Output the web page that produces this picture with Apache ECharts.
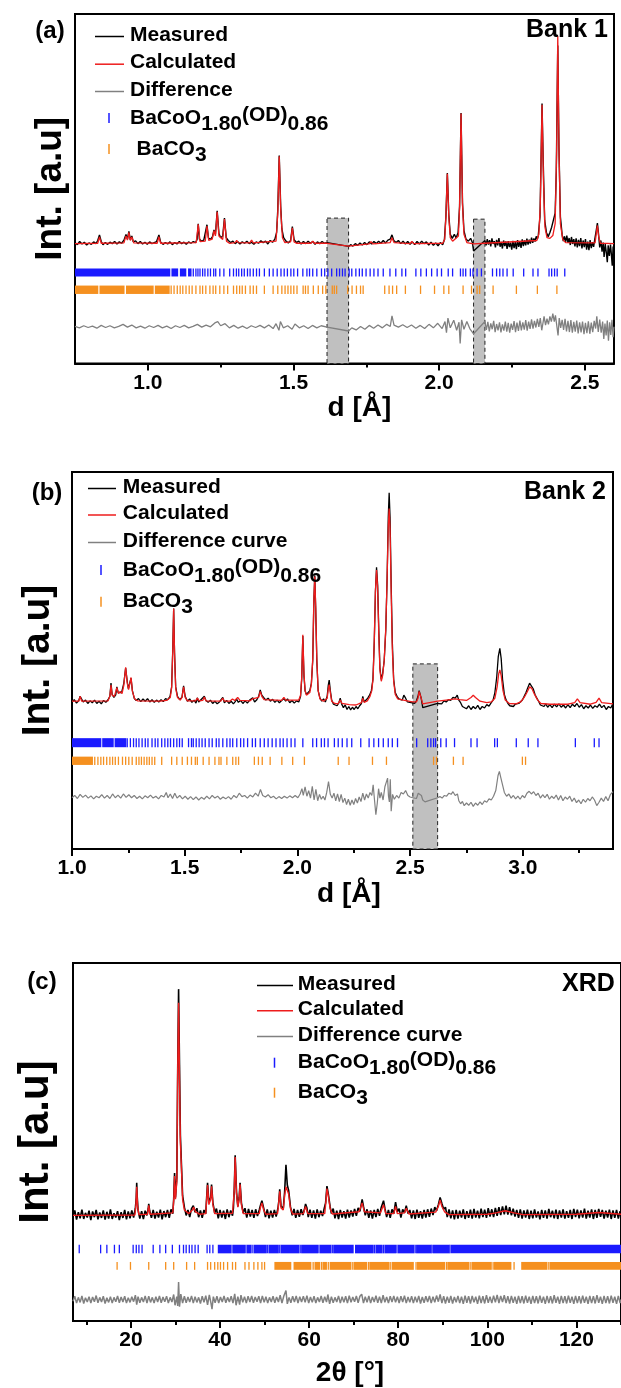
<!DOCTYPE html>
<html><head><meta charset="utf-8">
<script src="https://cdn.jsdelivr.net/npm/echarts@6.0.0/dist/echarts.min.js"></script>
<style>html,body{margin:0;padding:0;background:#fff}#c{width:621px;height:1388px}</style>
</head><body><div id="c"></div>
<script>
const FONT = '"Liberation Sans", Arial, Helvetica, sans-serif';

// ================= Panel (a): Bank 1, x = d [Å], y = arbitrary units (0-100) =================
const xTicksA = [1.0, 1.5, 2.0, 2.5];
const xMinorA = [1.25, 1.75, 2.25];
const measuredA = [[0.750,34.6],[0.758,34.0],[0.766,34.9],[0.774,34.2],[0.782,34.7],[0.790,33.9],[0.798,34.5],[0.806,34.1],[0.814,34.8],[0.822,34.3],[0.828,35.2],[0.834,36.8],[0.840,34.9],[0.846,34.0],[0.854,34.6],[0.862,34.1],[0.870,34.7],[0.878,34.3],[0.886,34.9],[0.894,34.2],[0.902,34.8],[0.910,34.4],[0.918,35.3],[0.925,36.9],[0.930,35.6],[0.935,37.8],[0.940,35.4],[0.945,36.5],[0.950,34.8],[0.958,35.1],[0.966,34.3],[0.974,34.9],[0.982,34.2],[0.990,34.7],[0.998,34.1],[1.006,34.8],[1.014,34.3],[1.022,34.6],[1.030,34.9],[1.038,36.8],[1.044,34.7],[1.052,34.1],[1.060,34.6],[1.068,34.2],[1.076,34.8],[1.084,34.0],[1.092,34.6],[1.100,34.2],[1.108,34.9],[1.116,34.3],[1.124,34.7],[1.132,34.1],[1.140,34.8],[1.148,34.4],[1.156,34.9],[1.164,34.6],[1.169,35.5],[1.173,40.0],[1.177,35.6],[1.184,35.0],[1.192,35.3],[1.198,35.8],[1.203,39.7],[1.208,35.9],[1.215,35.5],[1.222,36.3],[1.227,38.2],[1.232,37.0],[1.238,43.7],[1.244,37.2],[1.250,36.0],[1.257,36.5],[1.263,41.6],[1.269,36.0],[1.276,35.2],[1.284,34.6],[1.292,35.0],[1.300,34.3],[1.308,34.9],[1.316,34.2],[1.324,34.8],[1.332,34.4],[1.340,35.0],[1.348,34.3],[1.356,34.7],[1.364,34.1],[1.372,34.8],[1.380,34.4],[1.388,35.1],[1.396,34.6],[1.404,35.0],[1.412,34.2],[1.420,35.2],[1.428,34.7],[1.436,35.6],[1.442,37.5],[1.446,44.0],[1.451,59.5],[1.456,45.0],[1.460,38.5],[1.466,36.0],[1.474,35.0],[1.482,34.5],[1.490,35.2],[1.496,39.2],[1.502,35.4],[1.510,34.6],[1.518,35.0],[1.526,34.2],[1.534,34.9],[1.542,34.3],[1.550,35.0],[1.558,34.4],[1.566,34.9],[1.574,34.1],[1.582,34.8],[1.590,34.3],[1.598,34.9],[1.606,34.4],[1.615,34.6],[1.689,33.5],[1.696,34.0],[1.704,33.6],[1.712,34.3],[1.720,33.8],[1.728,34.5],[1.736,33.9],[1.744,34.6],[1.752,34.0],[1.760,34.8],[1.768,34.2],[1.776,34.9],[1.784,34.3],[1.792,35.0],[1.800,34.4],[1.808,35.2],[1.816,34.5],[1.824,35.3],[1.832,35.6],[1.838,36.8],[1.844,35.2],[1.852,34.6],[1.860,35.2],[1.868,34.3],[1.876,35.0],[1.884,34.2],[1.892,34.9],[1.900,34.1],[1.908,34.8],[1.916,34.0],[1.924,34.9],[1.932,34.2],[1.940,35.0],[1.948,34.3],[1.956,34.8],[1.964,33.9],[1.972,34.7],[1.980,33.8],[1.988,34.5],[1.996,33.7],[2.004,34.6],[2.012,34.0],[2.018,35.5],[2.023,42.0],[2.028,54.5],[2.033,42.5],[2.038,37.0],[2.045,35.8],[2.052,37.0],[2.058,35.9],[2.065,37.5],[2.070,45.0],[2.075,71.7],[2.080,46.0],[2.085,38.0],[2.092,35.6],[2.100,35.0],[2.108,35.8],[2.114,34.6],[2.118,32.2],[2.157,35.2],[2.161,33.8],[2.165,35.6],[2.169,34.0],[2.173,35.3],[2.177,33.5],[2.181,35.8],[2.185,34.2],[2.189,35.0],[2.193,33.2],[2.197,35.4],[2.201,33.8],[2.205,35.9],[2.209,33.4],[2.213,34.8],[2.217,32.9],[2.221,35.2],[2.225,33.6],[2.229,34.9],[2.233,32.8],[2.237,35.0],[2.241,33.3],[2.245,34.6],[2.249,32.6],[2.253,35.1],[2.257,33.0],[2.261,34.8],[2.265,32.7],[2.269,35.3],[2.273,33.4],[2.277,34.9],[2.281,33.1],[2.285,35.5],[2.289,33.6],[2.293,35.2],[2.297,33.8],[2.301,35.7],[2.305,34.0],[2.309,35.4],[2.313,34.3],[2.317,36.0],[2.321,34.5],[2.325,35.8],[2.329,34.9],[2.333,36.4],[2.337,35.6],[2.340,36.5],[2.346,42.0],[2.350,60.0],[2.353,74.4],[2.357,58.0],[2.362,41.0],[2.368,37.5],[2.374,36.3],[2.380,37.5],[2.386,39.0],[2.392,41.0],[2.398,43.0],[2.402,55.0],[2.407,91.0],[2.411,62.0],[2.416,42.0],[2.422,36.8],[2.426,35.0],[2.430,36.4],[2.434,34.8],[2.438,36.6],[2.442,34.5],[2.446,35.9],[2.450,33.9],[2.454,36.2],[2.458,34.2],[2.462,35.6],[2.466,33.5],[2.470,35.8],[2.474,33.2],[2.478,35.4],[2.482,33.6],[2.486,35.9],[2.490,32.9],[2.494,35.2],[2.498,33.3],[2.502,35.6],[2.506,32.6],[2.510,34.9],[2.514,32.4],[2.518,35.3],[2.522,33.0],[2.526,34.7],[2.530,33.4],[2.534,35.5],[2.539,38.0],[2.543,40.2],[2.547,37.0],[2.551,33.2],[2.555,35.2],[2.559,32.0],[2.563,34.6],[2.566,30.5],[2.570,34.2],[2.574,31.5],[2.577,29.0],[2.580,33.8],[2.584,30.8],[2.588,34.0],[2.591,31.2],[2.594,28.0],[2.597,33.5],[2.600,31.0]];
const calculatedA = [[0.750,34.3],[0.828,34.4],[0.834,36.2],[0.840,34.4],[0.918,34.5],[0.925,36.5],[0.930,35.3],[0.935,37.5],[0.940,35.2],[0.945,36.2],[0.952,34.5],[1.032,34.4],[1.038,36.3],[1.044,34.4],[1.166,34.6],[1.173,39.8],[1.179,34.9],[1.197,35.0],[1.203,39.3],[1.209,35.2],[1.221,35.6],[1.227,38.0],[1.232,36.5],[1.238,43.4],[1.244,36.5],[1.257,35.5],[1.263,41.3],[1.270,35.0],[1.280,34.4],[1.300,34.6],[1.305,35.2],[1.310,34.6],[1.350,34.5],[1.356,35.3],[1.362,34.5],[1.440,35.0],[1.446,43.0],[1.451,59.3],[1.456,44.0],[1.462,36.0],[1.470,34.6],[1.490,34.8],[1.496,38.8],[1.502,34.8],[1.510,34.4],[1.560,34.4],[1.566,35.0],[1.572,34.4],[1.615,34.4],[1.689,33.6],[1.760,34.2],[1.766,34.9],[1.772,34.2],[1.832,34.6],[1.838,36.0],[1.845,34.6],[1.900,34.3],[1.906,34.9],[1.912,34.3],[2.012,34.4],[2.019,35.5],[2.023,42.0],[2.028,54.3],[2.033,42.0],[2.038,36.0],[2.046,35.0],[2.066,36.5],[2.070,45.0],[2.075,71.5],[2.080,45.5],[2.085,37.0],[2.095,34.6],[2.118,34.2],[2.157,34.4],[2.335,35.2],[2.342,37.0],[2.347,45.0],[2.353,74.0],[2.358,52.0],[2.363,39.0],[2.370,36.0],[2.380,35.8],[2.390,36.6],[2.398,40.0],[2.403,60.0],[2.407,93.7],[2.411,62.0],[2.416,40.0],[2.424,35.5],[2.434,34.6],[2.535,34.5],[2.539,37.0],[2.543,39.5],[2.547,36.5],[2.553,34.4],[2.600,34.3]];
const differenceA = [[0.750,10.6],[0.765,10.2],[0.780,10.8],[0.795,10.3],[0.810,10.7],[0.825,10.1],[0.840,10.9],[0.855,10.3],[0.870,10.8],[0.885,10.2],[0.900,10.6],[0.915,11.2],[0.930,10.4],[0.945,11.0],[0.960,10.2],[0.975,10.7],[0.990,10.1],[1.005,10.8],[1.020,10.3],[1.035,10.9],[1.050,10.2],[1.065,10.7],[1.080,10.0],[1.095,10.8],[1.110,10.3],[1.125,10.9],[1.140,10.2],[1.155,10.6],[1.170,11.2],[1.185,10.4],[1.200,11.0],[1.215,10.5],[1.230,11.6],[1.240,12.0],[1.250,10.8],[1.265,11.4],[1.280,10.2],[1.295,10.9],[1.310,10.1],[1.325,10.7],[1.340,10.0],[1.355,10.8],[1.370,10.3],[1.385,10.9],[1.400,10.2],[1.415,11.0],[1.430,10.0],[1.440,11.4],[1.450,9.5],[1.455,12.0],[1.465,10.2],[1.480,10.8],[1.495,9.8],[1.505,11.3],[1.520,10.2],[1.535,10.8],[1.550,10.0],[1.565,10.9],[1.580,10.2],[1.595,10.8],[1.615,10.4],[1.689,9.3],[1.700,10.2],[1.715,9.6],[1.730,10.6],[1.745,9.8],[1.760,10.9],[1.775,10.1],[1.790,11.0],[1.805,10.2],[1.820,11.2],[1.832,10.6],[1.838,13.6],[1.845,11.0],[1.860,10.4],[1.875,11.1],[1.890,10.3],[1.905,11.0],[1.920,10.1],[1.935,10.9],[1.950,10.0],[1.965,11.2],[1.980,10.2],[1.995,11.5],[2.010,10.0],[2.020,12.0],[2.025,8.8],[2.030,13.0],[2.038,10.2],[2.050,12.4],[2.060,9.5],[2.068,11.8],[2.072,5.7],[2.077,12.5],[2.085,9.8],[2.095,12.0],[2.105,10.0],[2.118,8.5],[2.157,12.0],[2.162,9.6],[2.167,11.9],[2.172,9.2],[2.177,11.5],[2.182,9.8],[2.187,12.2],[2.192,9.0],[2.197,11.3],[2.202,9.5],[2.207,11.8],[2.212,8.9],[2.217,11.2],[2.222,9.4],[2.227,12.0],[2.232,9.1],[2.237,11.6],[2.242,8.8],[2.247,11.4],[2.252,9.6],[2.257,12.1],[2.262,9.0],[2.267,11.7],[2.272,9.3],[2.277,12.3],[2.282,9.5],[2.287,11.8],[2.292,9.7],[2.297,12.4],[2.302,9.4],[2.307,12.0],[2.312,9.9],[2.317,12.6],[2.322,10.0],[2.327,12.2],[2.332,10.3],[2.337,12.8],[2.342,10.5],[2.347,13.0],[2.352,9.5],[2.356,9.0],[2.360,13.5],[2.365,11.0],[2.370,12.8],[2.375,11.2],[2.380,13.5],[2.385,12.0],[2.390,14.3],[2.395,12.0],[2.399,13.8],[2.404,14.0],[2.408,8.0],[2.412,13.0],[2.417,10.2],[2.422,12.5],[2.427,9.6],[2.432,12.8],[2.437,9.2],[2.442,12.2],[2.447,9.0],[2.452,12.4],[2.457,8.8],[2.462,11.9],[2.467,9.1],[2.472,12.3],[2.477,8.6],[2.482,11.8],[2.487,8.9],[2.492,12.0],[2.497,8.4],[2.502,11.6],[2.507,8.7],[2.512,12.1],[2.517,8.5],[2.522,11.7],[2.527,9.0],[2.532,12.2],[2.537,10.0],[2.541,13.5],[2.546,9.0],[2.551,12.6],[2.556,8.8],[2.561,12.0],[2.565,7.0],[2.569,11.4],[2.573,8.0],[2.577,12.3],[2.581,6.5],[2.585,11.8],[2.589,8.2],[2.593,12.5],[2.597,7.5],[2.600,10.5]];
const blueBandsA = [[0.75,1.077],[1.081,1.104],[1.110,1.132],[1.138,1.150]];
const blueTicksA = [1.156,1.165,1.172,1.179,1.188,1.196,1.206,1.215,1.226,1.233,1.247,1.261,1.281,1.294,1.304,1.312,1.322,1.331,1.342,1.351,1.362,1.373,1.383,1.400,1.417,1.430,1.444,1.457,1.468,1.479,1.491,1.501,1.514,1.532,1.546,1.555,1.566,1.580,1.596,1.607,1.618,1.631,1.648,1.658,1.668,1.677,1.691,1.700,1.714,1.726,1.736,1.749,1.763,1.776,1.790,1.808,1.831,1.851,1.872,1.885,1.920,1.937,1.956,1.974,1.993,2.008,2.031,2.046,2.073,2.082,2.091,2.107,2.116,2.130,2.145,2.183,2.197,2.208,2.219,2.233,2.254,2.290,2.322,2.339,2.377,2.386,2.396,2.405,2.431];
const orangeBandsA = [[0.75,0.83],[0.834,0.92],[0.925,1.02],[1.024,1.075]];
const orangeTicksA = [1.080,1.090,1.101,1.111,1.120,1.131,1.142,1.152,1.165,1.179,1.188,1.199,1.213,1.224,1.233,1.247,1.261,1.274,1.294,1.305,1.315,1.324,1.335,1.351,1.362,1.373,1.400,1.430,1.446,1.460,1.471,1.481,1.491,1.501,1.512,1.533,1.541,1.550,1.568,1.585,1.600,1.611,1.633,1.640,1.648,1.686,1.701,1.716,1.730,1.739,1.813,1.828,1.840,1.854,1.884,1.936,1.984,2.016,2.033,2.082,2.111,2.130,2.139,2.185,2.265,2.337,2.404];
const excludedA = [[1.615,1.689,41.6],[2.118,2.157,41.3]]; // [from, to, top]

// ================= Panel (b): Bank 2 =================
const xTicksB = [1.0, 1.5, 2.0, 2.5, 3.0];
const xMinorB = [1.25, 1.75, 2.25, 2.75, 3.25];
const measuredB = [[1.000,39.0],[1.010,39.6],[1.020,38.7],[1.030,39.4],[1.036,40.5],[1.042,40.0],[1.050,39.0],[1.060,39.5],[1.070,38.6],[1.080,39.3],[1.090,38.8],[1.100,39.5],[1.110,38.6],[1.120,39.2],[1.130,38.5],[1.140,39.4],[1.150,38.9],[1.160,39.6],[1.168,40.5],[1.173,44.0],[1.178,41.0],[1.186,40.2],[1.194,40.9],[1.199,43.0],[1.205,41.5],[1.212,42.0],[1.220,41.5],[1.230,44.0],[1.238,48.0],[1.245,44.5],[1.250,42.5],[1.256,43.0],[1.262,45.3],[1.268,42.0],[1.276,40.0],[1.285,39.4],[1.295,39.9],[1.305,39.1],[1.315,39.8],[1.325,39.2],[1.335,39.9],[1.345,39.0],[1.355,39.6],[1.365,38.9],[1.375,39.5],[1.385,39.0],[1.395,39.6],[1.405,39.1],[1.415,39.9],[1.425,39.6],[1.435,40.5],[1.442,43.0],[1.447,53.0],[1.451,63.8],[1.455,52.0],[1.460,43.0],[1.468,40.5],[1.478,39.6],[1.488,40.3],[1.495,43.3],[1.502,40.5],[1.512,39.2],[1.522,39.8],[1.532,38.9],[1.542,39.5],[1.550,38.7],[1.556,40.1],[1.562,39.0],[1.572,39.6],[1.580,39.2],[1.587,40.5],[1.594,39.4],[1.604,38.9],[1.614,39.5],[1.624,38.6],[1.634,39.2],[1.644,38.5],[1.654,39.0],[1.662,38.7],[1.669,40.2],[1.676,38.8],[1.686,39.4],[1.696,38.6],[1.706,39.2],[1.716,38.5],[1.724,39.1],[1.730,39.8],[1.738,38.9],[1.748,39.4],[1.758,38.6],[1.768,39.3],[1.778,38.7],[1.788,39.5],[1.796,39.1],[1.802,40.1],[1.810,39.0],[1.820,39.6],[1.828,40.5],[1.835,42.2],[1.842,40.8],[1.850,40.2],[1.860,39.5],[1.870,40.0],[1.880,39.2],[1.890,39.7],[1.900,38.9],[1.910,39.5],[1.920,38.8],[1.930,39.4],[1.940,39.9],[1.948,39.2],[1.956,39.8],[1.966,38.8],[1.976,39.4],[1.986,38.7],[1.996,39.3],[2.006,39.0],[2.014,40.5],[2.019,45.0],[2.024,56.5],[2.029,46.0],[2.034,42.0],[2.040,41.0],[2.048,40.8],[2.055,42.0],[2.062,44.0],[2.068,50.0],[2.073,66.0],[2.077,72.6],[2.081,64.0],[2.086,50.0],[2.092,42.0],[2.100,40.0],[2.108,39.2],[2.116,39.8],[2.124,39.0],[2.132,40.5],[2.137,43.5],[2.141,44.8],[2.146,42.0],[2.152,39.5],[2.160,38.4],[2.168,38.9],[2.176,38.0],[2.184,38.8],[2.190,40.0],[2.196,38.5],[2.204,37.5],[2.212,38.2],[2.220,37.0],[2.228,37.8],[2.236,36.9],[2.244,37.6],[2.252,37.0],[2.260,37.8],[2.268,37.2],[2.276,38.0],[2.284,38.6],[2.290,40.5],[2.296,39.0],[2.304,39.5],[2.312,40.0],[2.320,40.8],[2.328,42.0],[2.335,45.0],[2.341,55.0],[2.346,68.0],[2.351,74.7],[2.356,70.0],[2.361,58.0],[2.366,48.0],[2.372,45.0],[2.378,46.5],[2.385,50.0],[2.392,58.0],[2.398,72.0],[2.403,88.0],[2.407,94.5],[2.411,88.0],[2.416,70.0],[2.421,55.0],[2.427,45.0],[2.434,41.5],[2.442,40.5],[2.450,39.8],[2.458,40.3],[2.465,39.5],[2.472,40.8],[2.480,40.0],[2.488,39.0],[2.496,39.5],[2.504,38.8],[2.512,39.2],[2.520,38.6],[2.528,39.3],[2.535,40.5],[2.540,42.0],[2.544,42.4],[2.549,40.0],[2.556,37.5],[2.562,37.2],[2.622,38.6],[2.630,39.0],[2.640,38.5],[2.650,39.3],[2.660,39.0],[2.670,39.6],[2.680,39.4],[2.690,40.2],[2.700,40.0],[2.709,40.8],[2.716,39.5],[2.724,38.8],[2.732,37.8],[2.740,37.5],[2.750,37.2],[2.760,38.0],[2.770,37.0],[2.780,37.8],[2.790,37.2],[2.800,38.1],[2.810,37.0],[2.820,37.8],[2.830,37.4],[2.840,38.3],[2.850,37.9],[2.860,38.8],[2.868,39.5],[2.876,41.5],[2.884,45.5],[2.891,51.0],[2.898,53.2],[2.904,50.5],[2.910,45.0],[2.918,41.0],[2.926,39.5],[2.934,38.6],[2.942,38.0],[2.950,38.5],[2.958,37.8],[2.966,38.4],[2.974,37.9],[2.982,38.6],[2.990,38.8],[2.998,39.5],[3.006,40.5],[3.014,41.5],[3.022,42.8],[3.030,44.0],[3.038,43.5],[3.046,42.5],[3.054,41.0],[3.062,40.0],[3.070,39.2],[3.078,38.2],[3.086,38.7],[3.094,37.8],[3.102,38.5],[3.110,37.6],[3.120,38.3],[3.130,37.5],[3.140,38.4],[3.150,37.7],[3.160,38.5],[3.170,37.6],[3.180,38.2],[3.190,37.4],[3.200,38.3],[3.210,37.5],[3.220,38.4],[3.230,37.8],[3.240,38.6],[3.250,37.6],[3.260,38.3],[3.270,37.2],[3.280,38.0],[3.290,37.4],[3.300,38.2],[3.310,37.3],[3.320,38.0],[3.330,37.6],[3.340,38.4],[3.350,37.5],[3.360,38.1],[3.370,37.0],[3.380,37.8],[3.390,37.4],[3.400,38.6]];
const calculatedB = [[1.000,39.2],[1.030,39.2],[1.036,40.5],[1.043,39.2],[1.160,39.3],[1.168,40.5],[1.173,43.5],[1.178,40.8],[1.188,40.5],[1.199,42.8],[1.206,41.2],[1.214,41.8],[1.222,41.2],[1.230,43.5],[1.238,48.2],[1.245,44.0],[1.251,42.3],[1.256,42.8],[1.262,45.5],[1.268,41.8],[1.278,39.8],[1.290,39.3],[1.390,39.2],[1.420,39.4],[1.436,40.2],[1.442,42.8],[1.447,52.5],[1.451,63.8],[1.455,51.5],[1.460,42.6],[1.468,40.2],[1.480,39.5],[1.488,40.2],[1.495,43.0],[1.502,40.2],[1.512,39.3],[1.548,39.3],[1.556,40.0],[1.564,39.3],[1.580,39.4],[1.587,40.3],[1.594,39.3],[1.660,39.2],[1.669,40.0],[1.676,39.2],[1.700,39.2],[1.712,39.8],[1.722,39.4],[1.735,40.2],[1.745,39.4],[1.790,39.3],[1.800,39.8],[1.808,39.3],[1.828,40.2],[1.835,41.8],[1.842,40.5],[1.852,39.6],[1.930,39.4],[1.940,40.2],[1.948,39.5],[2.006,39.5],[2.014,40.8],[2.019,45.5],[2.024,56.8],[2.029,46.5],[2.034,42.0],[2.040,40.8],[2.048,40.5],[2.055,41.5],[2.062,43.8],[2.068,50.5],[2.073,66.5],[2.077,72.3],[2.081,64.5],[2.086,50.5],[2.092,42.0],[2.100,39.8],[2.116,39.2],[2.132,40.0],[2.137,42.5],[2.141,43.6],[2.146,41.5],[2.152,39.2],[2.165,38.6],[2.180,38.5],[2.190,39.5],[2.198,38.6],[2.230,38.3],[2.260,38.2],[2.284,38.8],[2.290,40.0],[2.296,38.9],[2.310,39.3],[2.322,40.5],[2.330,42.0],[2.336,45.5],[2.341,55.5],[2.346,68.5],[2.351,74.0],[2.356,69.0],[2.361,57.0],[2.366,47.5],[2.372,44.5],[2.378,46.0],[2.385,50.0],[2.392,58.5],[2.398,72.0],[2.403,85.5],[2.407,90.3],[2.411,85.0],[2.416,68.0],[2.421,53.0],[2.427,44.5],[2.434,41.0],[2.445,39.8],[2.470,39.5],[2.510,39.0],[2.528,39.0],[2.535,40.0],[2.540,41.8],[2.544,42.0],[2.549,40.0],[2.556,38.5],[2.562,38.6],[2.622,39.2],[2.660,39.5],[2.700,39.8],[2.720,39.6],[2.750,39.4],[2.770,40.2],[2.780,40.8],[2.790,40.2],[2.810,39.2],[2.840,38.8],[2.860,39.0],[2.876,40.0],[2.886,43.0],[2.893,46.5],[2.898,47.5],[2.904,46.0],[2.912,42.0],[2.922,39.5],[2.940,38.6],[2.970,38.5],[2.990,39.0],[3.006,40.2],[3.018,41.5],[3.030,43.0],[3.040,42.6],[3.052,41.0],[3.066,39.5],[3.080,38.6],[3.120,38.4],[3.200,38.4],[3.230,38.8],[3.242,39.8],[3.254,38.8],[3.300,38.4],[3.325,38.9],[3.338,40.0],[3.350,38.8],[3.400,38.5]];
const differenceB = [[1.000,13.6],[1.012,14.2],[1.024,13.4],[1.036,14.5],[1.048,13.7],[1.060,14.3],[1.072,13.5],[1.084,14.1],[1.096,13.3],[1.108,14.0],[1.120,13.6],[1.132,14.4],[1.144,13.5],[1.156,14.2],[1.168,13.4],[1.180,14.6],[1.192,13.6],[1.204,14.3],[1.216,13.5],[1.228,14.6],[1.240,13.7],[1.252,14.4],[1.264,13.6],[1.276,14.2],[1.288,13.4],[1.300,14.0],[1.312,13.3],[1.324,14.1],[1.336,13.6],[1.348,14.3],[1.360,13.5],[1.372,14.0],[1.384,13.3],[1.396,14.2],[1.408,13.8],[1.418,15.0],[1.426,13.6],[1.436,14.6],[1.446,13.4],[1.456,14.8],[1.466,13.5],[1.478,14.2],[1.490,13.3],[1.502,14.0],[1.514,13.2],[1.526,13.9],[1.538,13.1],[1.550,13.8],[1.562,13.0],[1.574,13.7],[1.586,13.2],[1.598,14.0],[1.610,13.3],[1.622,14.2],[1.634,13.5],[1.646,14.0],[1.658,13.2],[1.670,13.8],[1.682,13.3],[1.694,13.9],[1.706,13.2],[1.718,14.2],[1.730,13.6],[1.742,14.8],[1.754,13.9],[1.766,14.2],[1.778,13.5],[1.790,14.3],[1.802,13.8],[1.814,14.8],[1.826,14.0],[1.836,15.8],[1.846,14.2],[1.858,13.8],[1.870,14.4],[1.882,13.6],[1.894,14.0],[1.906,13.3],[1.918,13.9],[1.930,13.4],[1.942,14.0],[1.954,13.5],[1.966,14.1],[1.978,13.6],[1.990,14.2],[2.002,13.6],[2.012,14.6],[2.020,16.0],[2.026,14.2],[2.034,16.5],[2.042,14.0],[2.050,15.5],[2.058,13.5],[2.066,16.6],[2.074,13.0],[2.082,15.8],[2.090,12.8],[2.098,14.5],[2.106,13.2],[2.114,14.0],[2.122,13.0],[2.130,15.0],[2.138,17.9],[2.146,14.5],[2.154,13.5],[2.162,14.8],[2.170,12.8],[2.178,14.6],[2.186,12.6],[2.194,14.5],[2.202,12.3],[2.210,13.5],[2.218,11.8],[2.226,13.2],[2.234,11.6],[2.242,13.0],[2.250,11.8],[2.258,13.4],[2.266,12.2],[2.274,13.8],[2.282,12.6],[2.290,14.8],[2.298,13.0],[2.306,14.6],[2.314,13.5],[2.322,15.0],[2.330,14.2],[2.336,17.0],[2.342,13.0],[2.348,9.1],[2.354,12.0],[2.360,16.0],[2.366,13.5],[2.372,15.0],[2.380,13.0],[2.388,16.5],[2.394,17.0],[2.400,18.8],[2.404,14.0],[2.408,12.5],[2.412,18.5],[2.416,10.0],[2.422,14.5],[2.430,13.2],[2.440,14.2],[2.450,13.5],[2.460,15.0],[2.470,14.6],[2.480,15.5],[2.490,14.2],[2.500,13.8],[2.512,13.6],[2.520,14.0],[2.528,13.4],[2.536,14.8],[2.544,15.2],[2.550,14.2],[2.556,13.0],[2.566,12.5],[2.622,13.6],[2.632,13.9],[2.642,13.5],[2.652,14.2],[2.662,14.0],[2.672,14.8],[2.682,14.5],[2.690,15.2],[2.700,14.2],[2.710,14.6],[2.716,12.8],[2.724,12.0],[2.732,12.6],[2.740,11.5],[2.750,12.2],[2.760,11.6],[2.770,12.4],[2.780,11.3],[2.790,12.2],[2.800,11.6],[2.810,12.5],[2.820,11.8],[2.830,12.8],[2.840,12.4],[2.850,13.3],[2.860,13.0],[2.870,14.0],[2.880,15.5],[2.890,19.5],[2.896,20.6],[2.902,19.0],[2.910,17.0],[2.918,15.0],[2.928,14.0],[2.938,14.6],[2.948,13.5],[2.958,14.2],[2.968,13.3],[2.978,14.0],[2.988,13.2],[2.998,14.2],[3.008,13.6],[3.018,14.8],[3.028,15.3],[3.038,14.6],[3.048,15.2],[3.058,14.2],[3.068,14.8],[3.078,13.5],[3.088,14.4],[3.098,13.6],[3.108,14.5],[3.118,13.2],[3.128,14.0],[3.138,13.4],[3.148,14.3],[3.158,13.0],[3.168,14.2],[3.178,12.8],[3.188,13.8],[3.198,13.2],[3.208,14.0],[3.218,12.6],[3.228,13.5],[3.238,12.3],[3.248,13.0],[3.258,12.0],[3.268,13.2],[3.278,12.4],[3.288,13.4],[3.298,12.8],[3.308,13.8],[3.318,13.0],[3.328,11.5],[3.338,12.4],[3.348,13.5],[3.358,12.6],[3.368,13.9],[3.378,12.8],[3.388,14.4],[3.400,15.2]];
const blueBandsB = [[1.0,1.130],[1.134,1.185],[1.189,1.241]];
const blueTicksB = [1.245,1.259,1.273,1.285,1.297,1.311,1.325,1.337,1.355,1.369,1.381,1.398,1.412,1.425,1.437,1.451,1.465,1.477,1.489,1.517,1.530,1.538,1.551,1.564,1.577,1.591,1.608,1.622,1.640,1.652,1.669,1.687,1.701,1.713,1.731,1.748,1.762,1.779,1.800,1.814,1.835,1.853,1.870,1.888,1.905,1.923,1.937,1.954,1.972,1.989,2.024,2.068,2.085,2.106,2.120,2.136,2.164,2.181,2.199,2.220,2.241,2.281,2.318,2.339,2.360,2.381,2.403,2.421,2.444,2.529,2.578,2.592,2.604,2.613,2.636,2.660,2.697,2.770,2.797,2.875,2.887,2.971,3.024,3.067,3.233,3.317,3.338];
const orangeBandsB = [[1.0,1.093]];
const orangeTicksB = [1.101,1.115,1.128,1.140,1.154,1.168,1.180,1.192,1.206,1.224,1.238,1.252,1.267,1.285,1.297,1.308,1.320,1.332,1.343,1.355,1.367,1.398,1.442,1.465,1.489,1.512,1.530,1.547,1.556,1.582,1.608,1.634,1.652,1.661,1.687,1.713,1.727,1.739,1.809,1.827,1.844,1.879,1.931,1.979,2.031,2.181,2.229,2.333,2.395,2.604,2.617,2.692,2.735,2.998,3.012];
const excludedB = [[2.512,2.622,49.1]];

// ================= Panel (c): XRD, x = 2θ [°] =================
const xTicksC = [20, 40, 60, 80, 100, 120];
const xMinorC = [10, 30, 50, 70, 90, 110, 130];
const measuredC = [[7.0,29.1],[7.4,30.9],[7.8,28.3],[8.2,30.4],[8.6,28.7],[9.0,31.1],[9.4,28.5],[9.8,30.2],[10.2,28.9],[10.6,30.8],[11.0,28.2],[11.4,30.6],[11.8,29.0],[12.2,31.0],[12.6,28.4],[13.0,30.3],[13.4,28.8],[13.8,30.9],[14.2,28.3],[14.6,30.5],[15.0,28.6],[15.4,31.2],[15.8,28.5],[16.2,30.1],[16.6,28.9],[17.0,30.7],[17.4,28.2],[17.8,30.4],[18.2,28.8],[18.6,31.0],[19.0,28.4],[19.4,30.6],[19.8,28.7],[20.2,30.9],[20.6,28.9],[21.0,31.5],[21.2,34.5],[21.3,38.6],[21.4,35.0],[21.6,31.0],[22.0,28.6],[22.4,30.7],[22.8,28.5],[23.2,30.8],[23.6,29.5],[23.9,31.5],[24.0,32.7],[24.2,30.8],[24.6,28.8],[25.0,31.0],[25.4,28.6],[25.8,30.5],[26.2,28.9],[26.6,31.1],[27.0,28.4],[27.4,30.7],[27.8,29.0],[28.2,31.0],[28.6,28.8],[29.0,31.2],[29.4,30.0],[29.6,34.0],[29.8,41.3],[30.0,34.5],[30.3,40.0],[30.5,70.0],[30.7,92.7],[30.9,72.0],[31.1,52.0],[31.3,45.0],[31.6,35.0],[32.0,31.8],[32.4,29.5],[32.8,31.0],[33.2,29.0],[33.6,31.4],[34.0,32.2],[34.4,30.4],[34.8,31.5],[35.2,29.0],[35.6,30.9],[36.0,28.8],[36.4,31.0],[36.8,30.0],[37.0,34.5],[37.2,38.6],[37.5,33.0],[37.9,34.5],[38.1,38.1],[38.4,33.0],[38.8,30.2],[39.2,31.4],[39.6,28.7],[40.0,31.0],[40.4,28.9],[40.8,30.8],[41.2,28.5],[41.6,31.2],[42.0,29.0],[42.4,30.9],[42.8,29.4],[43.0,31.5],[43.2,37.0],[43.4,46.3],[43.7,36.0],[44.0,32.0],[44.3,34.5],[44.5,38.6],[44.8,33.0],[45.2,30.2],[45.6,31.5],[46.0,28.9],[46.4,31.3],[46.8,29.2],[47.2,31.0],[47.6,28.8],[48.0,31.2],[48.4,29.3],[48.8,31.0],[49.1,32.4],[49.4,33.6],[49.8,31.5],[50.2,29.0],[50.6,31.2],[51.0,28.7],[51.4,30.8],[51.8,28.9],[52.2,31.0],[52.6,29.2],[53.0,31.5],[53.2,33.5],[53.4,36.8],[53.7,32.0],[54.2,31.5],[54.5,36.0],[54.8,43.6],[55.1,38.0],[55.4,36.5],[55.8,32.0],[56.2,29.5],[56.6,31.3],[57.0,28.8],[57.4,31.0],[57.8,29.1],[58.2,31.2],[58.6,29.6],[59.0,31.5],[59.2,32.7],[59.5,31.6],[59.8,29.0],[60.2,31.1],[60.6,28.8],[61.0,30.9],[61.4,28.6],[61.8,31.2],[62.2,29.0],[62.6,30.8],[63.0,29.3],[63.4,31.5],[63.7,33.0],[64.0,37.7],[64.3,35.5],[64.7,32.0],[65.0,30.0],[65.4,31.4],[65.8,28.7],[66.2,30.8],[66.6,28.5],[67.0,31.0],[67.4,28.9],[67.8,30.7],[68.2,28.6],[68.6,31.1],[69.0,28.9],[69.4,30.9],[69.8,29.2],[70.2,31.3],[70.6,29.4],[71.0,31.6],[71.4,30.6],[71.9,34.0],[72.2,32.0],[72.6,29.5],[73.0,31.2],[73.4,28.8],[73.8,30.9],[74.2,28.6],[74.6,31.0],[75.0,29.0],[75.4,31.3],[75.8,29.4],[76.2,31.8],[76.7,33.6],[77.0,31.5],[77.4,29.0],[77.8,31.0],[78.2,28.8],[78.6,31.2],[79.0,30.0],[79.4,33.2],[79.8,30.5],[80.2,31.4],[80.6,28.9],[81.0,31.2],[81.4,30.2],[81.8,32.2],[82.2,30.0],[82.6,31.0],[83.0,28.7],[83.4,30.9],[83.8,28.5],[84.2,31.1],[84.6,28.8],[85.0,30.7],[85.4,28.6],[85.8,31.0],[86.2,28.9],[86.6,31.2],[87.0,29.1],[87.4,31.4],[87.8,29.6],[88.2,31.8],[88.6,30.8],[89.0,32.5],[89.4,34.5],[89.8,32.8],[90.2,31.2],[90.6,31.8],[91.0,29.0],[91.4,31.2],[91.8,28.7],[92.2,30.9],[92.6,28.4],[93.0,31.0],[93.4,28.6],[93.8,30.8],[94.2,28.9],[94.6,31.2],[95.0,28.5],[95.4,30.7],[95.8,28.8],[96.2,31.1],[96.6,28.6],[97.0,31.3],[97.4,28.9],[97.8,30.8],[98.2,28.7],[98.6,31.4],[99.0,29.0],[99.4,31.1],[99.8,28.8],[100.2,31.5],[100.6,29.2],[101.0,31.2],[101.4,29.0],[101.8,31.6],[102.2,29.4],[102.6,31.8],[103.0,29.6],[103.4,32.0],[103.8,29.8],[104.2,32.2],[104.6,29.7],[105.0,31.8],[105.4,29.5],[105.8,31.4],[106.2,29.2],[106.6,31.0],[107.0,28.8],[107.4,31.2],[107.8,28.6],[108.2,30.9],[108.6,28.9],[109.0,31.1],[109.4,28.5],[109.8,30.8],[110.2,28.7],[110.6,31.2],[111.0,28.9],[111.4,30.6],[111.8,28.4],[112.2,31.0],[112.6,28.8],[113.0,30.9],[113.4,28.6],[113.8,31.3],[114.2,29.0],[114.6,30.8],[115.0,28.7],[115.4,31.1],[115.8,28.5],[116.2,30.9],[116.6,28.9],[117.0,31.2],[117.4,28.6],[117.8,30.7],[118.2,28.8],[118.6,31.0],[119.0,28.5],[119.4,31.3],[119.8,29.0],[120.2,31.1],[120.6,28.7],[121.0,30.9],[121.4,28.9],[121.8,31.4],[122.2,28.6],[122.6,30.8],[123.0,28.9],[123.4,31.2],[123.8,28.5],[124.2,31.0],[124.6,28.8],[125.0,31.3],[125.4,29.1],[125.8,31.0],[126.2,28.6],[126.6,30.8],[127.0,28.9],[127.4,31.1],[127.8,28.5],[128.2,30.9],[128.6,28.8],[129.0,31.0],[129.4,28.6],[129.8,30.7],[130.0,29.5]];
const calculatedC = [[7,29.5],[20.9,29.6],[21.1,32.0],[21.3,37.5],[21.5,32.0],[21.8,29.7],[23.7,29.8],[24.0,32.3],[24.3,29.8],[29.4,30.2],[29.6,33.5],[29.8,40.5],[30.0,34.0],[30.3,39.0],[30.5,70.0],[30.7,88.9],[30.9,68.0],[31.1,50.0],[31.3,44.0],[31.6,34.0],[32.0,31.0],[33.0,30.0],[33.8,31.0],[34.1,31.8],[34.5,30.5],[35.5,29.8],[36.8,30.0],[37.0,34.0],[37.2,38.0],[37.5,32.5],[37.9,34.0],[38.1,37.6],[38.4,32.5],[38.8,30.0],[42.8,30.1],[43.2,36.5],[43.4,45.8],[43.7,35.5],[44.0,31.8],[44.3,34.2],[44.5,38.2],[44.8,32.5],[45.2,30.0],[48.8,30.0],[49.1,31.8],[49.4,33.0],[49.8,31.0],[50.3,29.8],[52.9,30.0],[53.1,32.0],[53.4,36.2],[53.7,31.6],[54.2,31.0],[54.5,35.0],[54.8,37.5],[55.1,36.5],[55.4,35.5],[55.8,31.5],[56.3,29.9],[58.7,30.0],[59.2,32.0],[59.7,30.0],[63.5,30.0],[63.7,32.5],[64.0,37.0],[64.3,35.0],[64.7,31.5],[65.2,29.9],[71.2,30.5],[71.9,33.0],[72.4,30.5],[76.0,30.2],[76.7,32.5],[77.2,30.0],[79.0,30.0],[79.4,32.0],[79.8,30.0],[81.4,30.2],[81.8,31.5],[82.4,29.9],[88.4,30.4],[89.0,32.0],[89.4,33.8],[89.8,32.0],[90.4,30.5],[91.4,29.7],[100,29.8],[102,30.2],[104,30.8],[106,30.2],[108,29.7],[120,29.8],[125,30.3],[130,29.8]];
const differenceC = [[7.0,5.5],[7.4,6.9],[7.8,5.0],[8.2,6.6],[8.6,5.2],[9.0,7.0],[9.4,4.9],[9.8,6.5],[10.2,5.3],[10.6,6.8],[11.0,5.0],[11.4,6.7],[11.8,5.4],[12.2,7.1],[12.6,5.1],[13.0,6.6],[13.4,5.3],[13.8,6.9],[14.2,4.9],[14.6,6.5],[15.0,5.2],[15.4,6.8],[15.8,5.0],[16.2,6.6],[16.6,5.4],[17.0,7.0],[17.4,5.1],[17.8,6.7],[18.2,5.3],[18.6,6.9],[19.0,5.0],[19.4,6.5],[19.8,5.2],[20.2,6.8],[20.6,5.4],[21.0,7.2],[21.3,4.6],[21.6,6.8],[22.0,5.1],[22.4,6.6],[22.8,5.3],[23.2,7.0],[23.6,5.0],[24.0,6.9],[24.4,5.2],[24.8,6.6],[25.2,5.0],[25.6,6.8],[26.0,5.3],[26.4,7.0],[26.8,5.1],[27.2,6.7],[27.6,5.4],[28.0,6.9],[28.4,5.0],[28.8,6.6],[29.2,5.3],[29.6,7.4],[29.9,4.4],[30.3,6.8],[30.5,4.2],[30.7,10.9],[30.9,4.0],[31.2,7.5],[31.6,5.0],[32.0,6.9],[32.4,5.1],[32.8,6.7],[33.2,5.3],[33.6,7.0],[34.0,5.0],[34.4,6.8],[34.8,5.2],[35.2,6.6],[35.6,4.9],[36.0,6.9],[36.4,5.2],[36.8,7.1],[37.2,4.5],[37.6,7.3],[38.0,4.8],[38.2,3.3],[38.5,6.8],[38.9,5.1],[39.3,6.9],[39.7,5.0],[40.1,6.7],[40.5,5.3],[40.9,7.0],[41.3,5.1],[41.7,6.6],[42.1,5.3],[42.5,6.9],[42.9,5.0],[43.3,7.6],[43.6,4.4],[44.0,6.8],[44.4,4.6],[44.7,7.2],[45.1,5.2],[45.5,6.8],[45.9,5.0],[46.3,6.9],[46.7,5.3],[47.1,7.0],[47.5,5.1],[47.9,6.7],[48.3,5.4],[48.7,6.9],[49.1,5.0],[49.5,7.0],[49.9,5.2],[50.3,6.8],[50.7,5.0],[51.1,6.6],[51.5,5.3],[51.9,6.9],[52.3,5.1],[52.7,6.7],[53.1,5.3],[53.5,7.2],[53.9,5.0],[54.3,6.9],[54.8,8.5],[55.1,4.8],[55.5,6.6],[55.9,5.1],[56.3,6.9],[56.7,5.3],[57.1,7.0],[57.5,5.0],[57.9,6.8],[58.3,5.3],[58.7,6.9],[59.1,5.2],[59.5,7.1],[59.9,5.0],[60.3,6.7],[60.7,5.2],[61.1,6.9],[61.5,5.0],[61.9,6.6],[62.3,5.3],[62.7,7.0],[63.1,5.1],[63.5,6.8],[63.9,5.3],[64.2,7.4],[64.6,4.8],[65.0,6.8],[65.4,5.1],[65.8,6.6],[66.2,5.3],[66.6,7.0],[67.0,5.0],[67.4,6.8],[67.8,5.2],[68.2,6.9],[68.6,5.0],[69.0,7.1],[69.4,5.2],[69.8,6.7],[70.2,5.4],[70.6,7.0],[71.0,5.1],[71.4,6.9],[71.8,7.5],[72.2,5.0],[72.6,6.8],[73.0,5.2],[73.4,7.0],[73.8,5.0],[74.2,6.7],[74.6,5.3],[75.0,7.1],[75.4,5.1],[75.8,6.8],[76.2,5.0],[76.6,7.2],[77.0,5.2],[77.4,6.7],[77.8,5.0],[78.2,6.9],[78.6,5.3],[79.0,7.0],[79.4,5.2],[79.8,6.8],[80.2,5.0],[80.6,6.9],[81.0,5.3],[81.4,7.1],[81.8,5.0],[82.2,6.7],[82.6,5.2],[83.0,6.9],[83.4,5.0],[83.8,6.8],[84.2,5.2],[84.6,7.0],[85.0,4.9],[85.4,6.7],[85.8,5.1],[86.2,6.9],[86.6,5.3],[87.0,7.0],[87.4,5.0],[87.8,6.8],[88.2,5.2],[88.6,7.1],[89.0,5.4],[89.4,7.4],[89.8,5.0],[90.2,6.9],[90.6,4.9],[91.0,6.8],[91.4,5.1],[91.8,7.0],[92.2,4.9],[92.6,6.7],[93.0,5.2],[93.4,7.0],[93.8,5.0],[94.2,6.8],[94.6,4.8],[95.0,7.1],[95.4,5.1],[95.8,6.9],[96.2,4.9],[96.6,7.0],[97.0,5.2],[97.4,6.8],[97.8,4.8],[98.2,7.1],[98.6,5.0],[99.0,6.9],[99.4,4.9],[99.8,7.2],[100.2,5.1],[100.6,6.8],[101.0,5.0],[101.4,7.1],[101.8,5.2],[102.2,7.3],[102.6,5.0],[103.0,7.0],[103.4,5.3],[103.8,7.2],[104.2,5.0],[104.6,6.9],[105.0,4.9],[105.4,7.0],[105.8,5.1],[106.2,6.8],[106.6,4.8],[107.0,7.0],[107.4,5.0],[107.8,6.9],[108.2,4.9],[108.6,7.1],[109.0,5.1],[109.4,6.8],[109.8,4.8],[110.2,7.0],[110.6,5.0],[111.0,6.9],[111.4,4.9],[111.8,7.1],[112.2,5.1],[112.6,6.8],[113.0,4.8],[113.4,7.0],[113.8,5.0],[114.2,6.9],[114.6,4.9],[115.0,7.2],[115.4,5.1],[115.8,6.8],[116.2,4.8],[116.6,7.0],[117.0,5.0],[117.4,6.9],[117.8,4.9],[118.2,7.1],[118.6,5.1],[119.0,6.8],[119.4,4.8],[119.8,7.0],[120.2,5.0],[120.6,6.9],[121.0,4.9],[121.4,7.1],[121.8,5.1],[122.2,6.8],[122.6,4.8],[123.0,7.0],[123.4,5.0],[123.8,6.9],[124.2,4.9],[124.6,7.2],[125.0,5.1],[125.4,6.8],[125.8,4.8],[126.2,7.0],[126.6,5.0],[127.0,6.9],[127.4,4.9],[127.8,7.1],[128.2,5.1],[128.6,6.8],[129.0,4.8],[129.4,7.0],[129.8,5.0],[130.0,6.0]];
const blueTicksC = [8.4,13.2,14.6,16.3,17.4,20.5,21.2,21.8,22.5,25.0,26.5,27.8,29.3,30.9,31.8,32.4,33.1,33.7,34.4,35.1,37.1,37.7,38.4,42.7,45.8,47.2,50.7,53.4,58.0,62.2,65.2,74.7,76.7,79.7,83.8,87.6,91.6];
const blueBandsC = [[39.5,42.5],[42.9,45.6],[46.0,47.0],[47.5,50.5],[50.9,53.2],[53.6,57.8],[58.2,62.0],[62.4,65.0],[65.4,70.0],[70.3,74.5],[74.9,76.5],[76.9,79.5],[79.9,83.6],[84.0,87.5],[87.8,91.5],[91.8,130]];
const orangeTicksC = [16.9,19.9,24.0,27.8,29.6,32.5,34.3,37.2,37.9,38.8,39.5,40.1,40.8,41.7,42.8,43.5,45.6,46.5,47.6,48.5,49.4,50.0,60.9,62.8,64.3,69.8,73.3,78.2,84.0,90.8,96.3,101.3,106.0,113.8];
const orangeBandsC = [[52.2,56.0],[56.5,60.5],[61.2,62.5],[63.0,64.0],[64.6,69.5],[70.0,73.0],[73.5,78.0],[78.5,83.5],[84.2,90.5],[91.0,96.0],[96.5,101.0],[101.5,105.4],[107.6,113.5],[114.0,130]];

// legend / label texts
const diffLabelA = 'Difference';
const diffLabelBC = 'Difference curve';

// ================= styling / layout =================
const C_MEAS = '#000000', C_CALC = '#ee1c1c', C_DIFF = '#808080', C_BLUE = '#1a1aff', C_ORANGE = '#f5901f';
const grids = [
  {left: 75, top: 14, width: 539, height: 349.5},
  {left: 72, top: 472, width: 541, height: 377},
  {left: 73, top: 963, width: 552, height: 366}
];
const ranges = [[0.75, 2.6], [1.0, 3.4], [7, 130]];
const rows = [
  {blue: [24.9, 27.2], orange: [19.9, 22.3]},
  {blue: [27.0, 29.4], orange: [22.3, 24.5]},
  {blue: [18.9, 21.3], orange: [14.3, 16.5]}
];
const widths = [{meas: 1.4, calc: 1.3, diff: 1.3}, {meas: 1.3, calc: 1.3, diff: 1.2}, {meas: 1.6, calc: 1.4, diff: 1.5}];

function xAxes(i, major, minor, name, nameGap, namePad, fmt) {
  const base = {gridIndex: i, type: 'value', min: ranges[i][0], max: ranges[i][1], position: 'bottom', splitLine: {show: false}};
  return [
    Object.assign({}, base, {
      axisLine: {show: true, onZero: false, lineStyle: {color: '#000', width: 2}},
      axisTick: {show: true, inside: false, length: 7, customValues: major, lineStyle: {color: '#000', width: 2}},
      axisLabel: {show: true, customValues: major, formatter: fmt, margin: 9, color: '#000', fontSize: 21, fontWeight: 'bold', fontFamily: FONT},
      name: name, nameLocation: 'middle', nameGap: nameGap,
      nameTextStyle: {color: '#000', fontSize: 28, fontWeight: 'bold', fontFamily: FONT, padding: namePad}
    }),
    Object.assign({}, base, {
      axisLine: {show: false},
      axisTick: {show: true, inside: false, length: 4, customValues: minor, lineStyle: {color: '#000', width: 2}},
      axisLabel: {show: false}
    })
  ];
}
function yAxis(i, size, gap) {
  return {gridIndex: i, type: 'value', min: 0, max: 100, splitLine: {show: false},
    axisLine: {show: true, lineStyle: {color: '#000', width: 2}}, axisTick: {show: false}, axisLabel: {show: false},
    name: 'Int. [a.u]', nameLocation: 'middle', nameRotate: 90, nameGap: gap,
    nameTextStyle: {color: '#000', fontSize: size, fontWeight: 'bold', fontFamily: FONT}};
}
function lineSeries(name, xi, yi, data, color, width, z) {
  return {type: 'line', name, xAxisIndex: xi, yAxisIndex: yi, data, showSymbol: false, symbol: 'none',
    lineStyle: {color, width}, z, animation: false, silent: true, clip: true};
}
function tickSeries(name, xi, yi, ticks, row, color) {
  const mid = (row[0] + row[1]) / 2;
  return {type: 'custom', name, xAxisIndex: xi, yAxisIndex: yi, data: ticks.map(v => [v, mid]), encode: {x: 0, y: 1},
    z: 2, animation: false, silent: true,
    renderItem: (p, api) => {
      const a = api.coord([api.value(0), row[0]]), b = api.coord([api.value(0), row[1]]);
      return {type: 'line', shape: {x1: a[0], y1: a[1], x2: b[0], y2: b[1]}, style: {stroke: color, lineWidth: 1.3}};
    }};
}
function bandSeries(name, xi, yi, bands, row, color) {
  const mid = (row[0] + row[1]) / 2;
  return {type: 'custom', name, xAxisIndex: xi, yAxisIndex: yi, data: bands.map(b => [b[0], b[1], mid]), encode: {x: [0, 1], y: 2},
    z: 2, animation: false, silent: true,
    renderItem: (p, api) => {
      const a = api.coord([api.value(0), row[1]]), b = api.coord([api.value(1), row[0]]);
      return {type: 'rect', shape: {x: a[0], y: a[1], width: b[0] - a[0], height: b[1] - a[1]}, style: {fill: color}};
    }};
}
function excludedSeries(xi, yi, regions) {
  return {type: 'custom', name: 'excluded', xAxisIndex: xi, yAxisIndex: yi, data: regions.map(r => [r[0], r[1], r[2]]), encode: {x: [0, 1], y: 2},
    z: 1, animation: false, silent: true,
    renderItem: (p, api) => {
      const a = api.coord([api.value(0), api.value(2)]), b = api.coord([api.value(1), 0]);
      return {type: 'rect', shape: {x: a[0], y: a[1], width: b[0] - a[0], height: b[1] - a[1]},
        style: {fill: '#c0c0c0', stroke: '#222', lineWidth: 1, lineDash: [4, 3]}};
    }};
}

const series = [];
[[measuredA, calculatedA, differenceA, blueTicksA, blueBandsA, orangeTicksA, orangeBandsA, excludedA],
 [measuredB, calculatedB, differenceB, blueTicksB, blueBandsB, orangeTicksB, orangeBandsB, excludedB],
 [measuredC, calculatedC, differenceC, blueTicksC, blueBandsC, orangeTicksC, orangeBandsC, null]].forEach((d, i) => {
  const xi = 2 * i, yi = i, w = widths[i];
  if (d[7]) series.push(excludedSeries(xi, yi, d[7]));
  series.push(bandSeries('BaCoO1.80(OD)0.86', xi, yi, d[4], rows[i].blue, C_BLUE));
  series.push(tickSeries('BaCoO1.80(OD)0.86', xi, yi, d[3], rows[i].blue, C_BLUE));
  series.push(bandSeries('BaCO3', xi, yi, d[6], rows[i].orange, C_ORANGE));
  series.push(tickSeries('BaCO3', xi, yi, d[5], rows[i].orange, C_ORANGE));
  series.push(lineSeries('Difference', xi, yi, d[2], C_DIFF, w.diff, 3));
  series.push(lineSeries('Measured', xi, yi, d[0], C_MEAS, w.meas, 4));
  series.push(lineSeries('Calculated', xi, yi, d[1], C_CALC, w.calc, 5));
});

// ---------- graphic: legends and panel labels ----------
const ctx = document.createElement('canvas').getContext('2d');
function fontStr(s) { return 'bold ' + s + 'px ' + FONT; }
function txt(x, y, t, size, align) {
  return {type: 'text', x, y, z: 100, silent: true, style: {text: t, font: fontStr(size), fill: '#000', align: align || 'left', verticalAlign: 'middle'}};
}
function chem(x, y, parts, size) {
  const out = []; let cx = x;
  parts.forEach(p => {
    out.push(txt(cx, y + p[1], p[0], size));
    ctx.font = fontStr(size); cx += ctx.measureText(p[0]).width;
  });
  return out;
}
function legend(L) {
  const g = [];
  const labels = ['Measured', 'Calculated', L.diff];
  const cols = [C_MEAS, C_CALC, C_DIFF];
  for (let k = 0; k < 3; k++) {
    g.push({type: 'line', z: 100, silent: true, shape: {x1: L.lx1, y1: L.rows[k] + 1.5, x2: L.lx2, y2: L.rows[k] + 1.5}, style: {stroke: cols[k], lineWidth: 1.5}});
    g.push(txt(L.tx, L.rows[k], labels[k], L.size));
  }
  g.push({type: 'rect', z: 100, silent: true, shape: {x: L.mx - 0.75, y: L.rows[3] - 5, width: 1.5, height: 10}, style: {fill: C_BLUE}});
  g.push(...chem(L.tx, L.rows[3], [['BaCoO', 0], ['1.80', 6], ['(OD)', -2.5], ['0.86', 6]], L.size));
  g.push({type: 'rect', z: 100, silent: true, shape: {x: L.mx - 0.75, y: L.rows[4] - 5, width: 1.5, height: 10}, style: {fill: C_ORANGE}});
  g.push(...chem(L.tx2, L.rows[4], [['BaCO', 0], ['3', 6]], L.size));
  return g;
}
const graphic = [].concat(
  legend({rows: [35, 62.7, 90, 118, 149], lx1: 95, lx2: 124, tx: 130, tx2: 136.6, mx: 109, size: 21, diff: diffLabelA}),
  legend({rows: [487, 513.5, 541, 570, 601.7], lx1: 88, lx2: 116, tx: 122.8, tx2: 122.8, mx: 101, size: 21, diff: diffLabelBC}),
  legend({rows: [984, 1009.3, 1035, 1062.7, 1092.7], lx1: 257, lx2: 293, tx: 297.8, tx2: 297.8, mx: 274.5, size: 21, diff: diffLabelBC}),
  [txt(50, 31, '(a)', 24, 'center'), txt(608, 30, 'Bank 1', 25, 'right'),
   txt(47, 493, '(b)', 24, 'center'), txt(606, 492, 'Bank 2', 25, 'right'),
   txt(42, 982, '(c)', 24, 'center'), txt(562, 984, 'XRD', 25, 'left')]
);

const fmt1 = v => v.toFixed(1);
const fmt0 = v => String(Math.round(v));
const chart = echarts.init(document.getElementById('c'), null, {renderer: 'canvas'});
chart.setOption({
  animation: false,
  backgroundColor: '#fff',
  textStyle: {fontFamily: FONT},
  grid: grids.map(g => Object.assign({show: true, borderColor: '#000', borderWidth: 2, backgroundColor: 'transparent', containLabel: false}, g)),
  xAxis: [].concat(
    xAxes(0, xTicksA, xMinorA, 'd [Å]', 20, [0, 0, 0, 30], fmt1),
    xAxes(1, xTicksB, xMinorB, 'd [Å]', 27, [0, 0, 0, 13], fmt1),
    xAxes(2, xTicksC, xMinorC, '2θ [°]', 38, [0, 0, 0, 6], fmt0)
  ),
  yAxis: [yAxis(0, 37, 6), yAxis(1, 39, 14), yAxis(2, 42, 16)],
  series,
  graphic
});
</script></body></html>
